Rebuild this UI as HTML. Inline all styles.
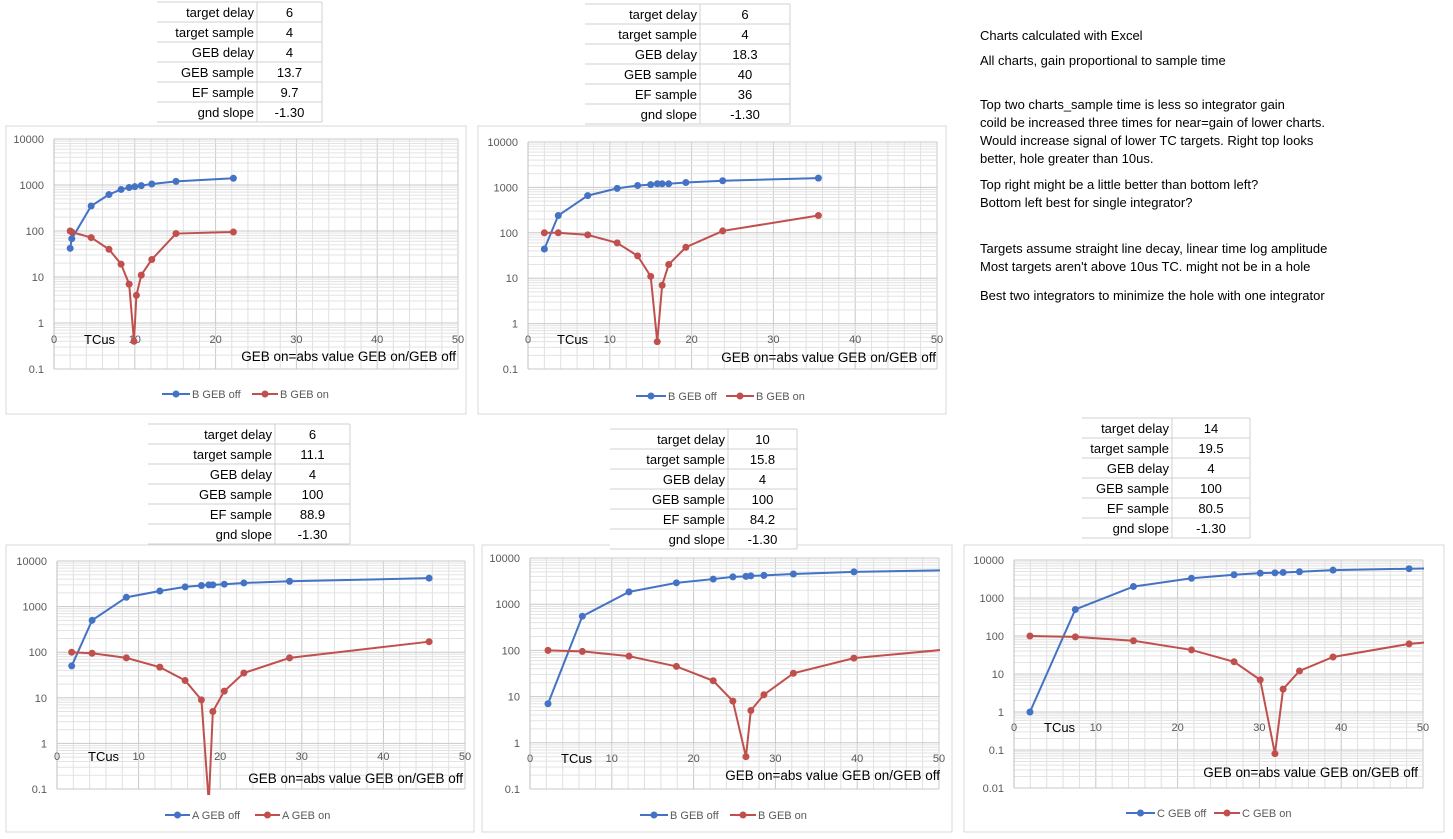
<!DOCTYPE html>
<html><head><meta charset="utf-8"><style>
body{margin:0;background:#fff;width:1453px;height:839px;overflow:hidden;font-family:"Liberation Sans",sans-serif}
svg{position:absolute;left:0;top:0}
</style></head><body>
<svg id="s" width="1453" height="839" xmlns="http://www.w3.org/2000/svg" font-family="Liberation Sans, sans-serif"></svg>
<script>
const s=document.getElementById('s');let h='';
function T(x,y,t,o){o=o||{};h+=`<text x="${x}" y="${y}" font-size="${o.fs||13}" fill="${o.c||'#000'}" text-anchor="${o.a||'start'}">${t}</text>`;}
function L(x1,y1,x2,y2,c,w){h+=`<line x1="${x1}" y1="${y1}" x2="${x2}" y2="${y2}" stroke="${c}" stroke-width="${w||1}"/>`;}
function table(x0,xm,x1,y0,rh,labels,vals){
 h+=`<rect x="${x0}" y="${y0}" width="${x1-x0}" height="${6*rh}" fill="#fff"/>`;
 for(let i=0;i<=6;i++)L(x0,y0+i*rh,x1,y0+i*rh,'#d0d0d0');
 L(xm,y0,xm,y0+6*rh,'#d0d0d0');L(x1,y0,x1,y0+6*rh,'#d0d0d0');
 labels.forEach((l,i)=>{T(xm-3,y0+i*rh+rh/2+5,l,{a:'end'});T((xm+x1)/2,y0+i*rh+rh/2+5,vals[i],{a:'middle'});});
}
const lb=['target delay','target sample','GEB delay','GEB sample','EF sample','gnd slope'];
[[36,'Charts calculated with Excel'],[61,'All charts, gain proportional to sample time'],[105,'Top two charts_sample time is less so integrator gain'],[123,'coild be increased three times for near=gain of lower charts.'],[141,'Would increase signal of lower TC targets. Right top looks'],[159,'better, hole greater than 10us.'],[185,'Top right might be a little better than bottom left?'],[203,'Bottom left best for single integrator?'],[249,'Targets assume straight line decay, linear time log amplitude'],[267,"Most targets aren't above 10us TC.   might not be in a hole"],[296,'Best two integrators to minimize the hole with one integrator']].forEach(a=>T(980,a[0]+4,a[1]));
function chart(c){
 const [fx,fy,fx2,fy2]=c.f;
 h+=`<rect x="${fx}" y="${fy}" width="${fx2-fx}" height="${fy2-fy}" fill="#fff" stroke="#d9d9d9"/>`;
 const {Lx,R,Tp,B,dt,db}=c;const nd=dt-db;
 const X=v=>Lx+(R-Lx)*v/50, Y=v=>Tp+(B-Tp)*(dt-Math.log10(v))/nd;
 for(let v=0;v<=50;v+=2)L(X(v),Tp,X(v),B,v%10==0?'#c8c8c8':'#e0e0e0');
 for(let d=db;d<dt;d++){for(let k=2;k<10;k++)L(Lx,Y(k*Math.pow(10,d)),R,Y(k*Math.pow(10,d)),'#e3e3e3');}
 for(let d=db;d<=dt;d++){L(Lx,Y(Math.pow(10,d)),R,Y(Math.pow(10,d)),'#c8c8c8');
  let lab=d>=0?String(Math.pow(10,d)):(d==-1?'0.1':'0.01');T(Lx-10,Y(Math.pow(10,d))+4,lab,{a:'end',fs:11,c:'#595959'});}
 L(Lx,Tp,Lx,B,'#bfbfbf');
 for(let v=0;v<=50;v+=10)T(X(v),c.xl,String(v),{a:'middle',fs:11,c:'#595959'});
 T(c.tc,c.xl+1,'TCus',{fs:13});
 T(c.an[0],c.an[1],'GEB on=abs value GEB on/GEB off',{a:'end',fs:13.5});
 h+=`<clipPath id="c${c.id}"><rect x="${Lx}" y="${Tp-6}" width="${R-Lx+1}" height="${B-Tp+12}"/></clipPath><g clip-path="url(#c${c.id})">`;
 [[c.b,'#4472c4'],[c.r,'#c0504d']].forEach(([d,col])=>{
  h+=`<polyline fill="none" stroke="${col}" stroke-width="2" points="${d.map(p=>X(p[0])+','+Y(p[1])).join(' ')}"/>`;
  d.forEach(p=>{if(p[0]<=49.5)h+=`<circle cx="${X(p[0])}" cy="${Y(p[1])}" r="3.5" fill="${col}"/>`;});
 });
 h+='</g>';
 const ly=c.lg[0];
 [[c.lg[1],c.lg[2],c.lg[3],'#4472c4'],[c.lg[4],c.lg[5],c.lg[6],'#c0504d']].forEach(([a,b,t,col])=>{
  L(a,ly,b,ly,col,2);h+=`<circle cx="${(a+b)/2}" cy="${ly}" r="3.5" fill="${col}"/>`;T(b+2,ly+4,t,{fs:11,c:'#595959'});});
}
chart({id:1,f:[6,126,466,414],Lx:54,R:458,Tp:139,B:369,dt:4,db:-1,xl:343,tc:84,an:[456,361],
 b:[[2,42],[2.2,68],[4.6,350],[6.8,620],[8.3,800],[9.3,880],[10,920],[10.8,970],[12.1,1050],[15.1,1200],[22.2,1400]],
 r:[[2,100],[2.2,95],[4.6,72],[6.8,40],[8.3,19],[9.3,7],[9.9,0.4],[10.2,4],[10.8,11],[12.1,24],[15.1,88],[22.2,95]],
 lg:[394,162,190,'B  GEB off',252,278,'B  GEB on']});
chart({id:2,f:[478,126,946,414],Lx:528,R:937,Tp:142,B:369,dt:4,db:-1,xl:343,tc:557,an:[936,362],
 b:[[2,44],[3.7,240],[7.3,660],[10.9,950],[13.4,1100],[15,1150],[15.8,1200],[16.4,1200],[17.2,1200],[19.3,1280],[23.8,1400],[35.5,1600]],
 r:[[2,100],[3.7,100],[7.3,90],[10.9,60],[13.4,31],[15,11],[15.8,0.4],[16.4,7],[17.2,20],[19.3,48],[23.8,110],[35.5,240]],
 lg:[396,636,666,'B  GEB off',726,754,'B  GEB on']});
chart({id:3,f:[6,545,474,832],Lx:57,R:465,Tp:561,B:789,dt:4,db:-1,xl:760,tc:88,an:[463,783],
 b:[[1.8,50],[4.3,500],[8.5,1600],[12.6,2200],[15.7,2700],[17.7,2900],[18.6,3000],[19.1,3000],[20.5,3100],[22.9,3300],[28.5,3600],[45.6,4200]],
 r:[[1.8,100],[4.3,95],[8.5,75],[12.6,47],[15.7,24],[17.7,9],[18.6,0.05],[19.1,5],[20.5,14],[22.9,35],[28.5,75],[45.6,170]],
 lg:[815,165,190,'A  GEB off',255,280,'A  GEB on']});
chart({id:4,f:[482,545,952,832],Lx:530,R:939,Tp:558,B:789,dt:4,db:-1,xl:762,tc:561,an:[940,780],
 b:[[2.2,7],[6.4,550],[12.1,1850],[17.9,2900],[22.4,3500],[24.8,3900],[26.4,4000],[27,4100],[28.6,4200],[32.2,4500],[39.6,5000],[50.2,5400]],
 r:[[2.2,100],[6.4,95],[12.1,75],[17.9,45],[22.4,22],[24.8,8],[26.4,0.5],[27,5],[28.6,11],[32.2,32],[39.6,68],[50.2,102]],
 lg:[815,640,668,'B  GEB off',730,756,'B  GEB on']});
chart({id:5,f:[964,545,1444,832],Lx:1014,R:1423,Tp:560,B:788,dt:4,db:-2,xl:731,tc:1044,an:[1418,777],
 b:[[1.95,1],[7.5,500],[14.6,2000],[21.7,3300],[26.9,4100],[30.1,4500],[31.9,4600],[32.9,4700],[34.9,4900],[39,5400],[48.3,5900],[50.2,6000]],
 r:[[1.95,100],[7.5,95],[14.6,75],[21.7,43],[26.9,21],[30.1,7],[31.9,0.08],[32.9,4],[34.9,12],[39,28],[48.3,62],[50.2,67]],
 lg:[813,1126,1155,'C GEB off',1214,1240,'C GEB on']});
table(157,257,322,2,20,lb,['6','4','4','13.7','9.7','-1.30']);
table(585,700,790,4,20,lb,['6','4','18.3','40','36','-1.30']);
table(148,275,350,424,20,lb,['6','11.1','4','100','88.9','-1.30']);
table(610,728,797,429,20,lb,['10','15.8','4','100','84.2','-1.30']);
table(1082,1172,1250,418,20,lb,['14','19.5','4','100','80.5','-1.30']);
s.innerHTML=h;
</script>
</body></html>
